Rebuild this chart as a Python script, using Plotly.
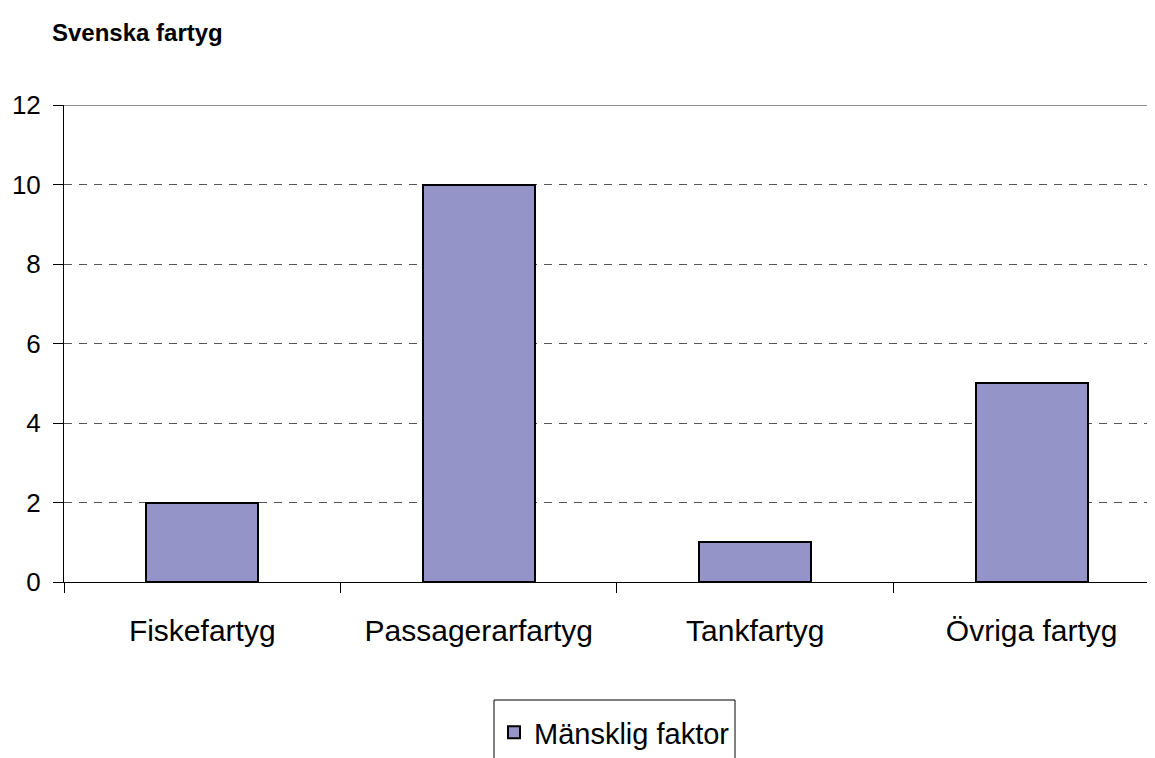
import plotly.graph_objects as go

# ── Data ─────────────────────────────────────────────────────────────────────
kategorier = ["Fiskefartyg", "Passagerarfartyg", "Tankfartyg", "Övriga fartyg"]
mansklig_faktor = [2, 10, 1, 5]
y_ticks = [0, 2, 4, 6, 8, 10, 12]

FONT = "Liberation Sans, Arial, sans-serif"

# page body adds an 8px margin, so the figure is 8px smaller and shifted
W, H = 1147, 750
plot_l, plot_t, plot_b = 56, 97, 574
plot_w, plot_h = W - plot_l, plot_b - plot_t


def px_x(v):
    return (v - plot_l) / plot_w


def px_y(v):
    return (plot_b - v) / plot_h


fig = go.Figure()
fig.add_trace(go.Bar(
    x=kategorier,
    y=mansklig_faktor,
    name="Mänsklig faktor",
    width=0.404,
    marker=dict(color="#9494C9", line=dict(color="black", width=2)),
))

# solid grey top border at 12
fig.add_shape(type="line", xref="paper", yref="y", x0=0, x1=1, y0=12, y1=12,
              line=dict(color="#8c8c8c", width=2))

# legend frame (runs off the bottom of the picture, as in the original)
fig.add_shape(type="rect", xref="paper", yref="paper",
              x0=px_x(486), x1=px_x(727), y0=px_y(692), y1=px_y(790),
              line=dict(color="black", width=1), fillcolor="rgba(0,0,0,0)")

fig.update_layout(
    width=W, height=H,
    margin=dict(l=plot_l, r=0, t=plot_t, b=H - plot_b),
    paper_bgcolor="white", plot_bgcolor="white",
    font=dict(family=FONT, color="black"),
    title=dict(text="<b>Svenska fartyg</b>", x=44 / W, xanchor="left",
               y=1 - 25 / H, yanchor="middle", font=dict(size=24)),
    bargap=0,
    showlegend=True,
    legend=dict(
        x=px_x(606.5), xanchor="center",
        y=px_y(699), yanchor="top",
        borderwidth=0, bgcolor="rgba(0,0,0,0)",
        font=dict(size=29),
        itemsizing="constant",
    ),
    xaxis=dict(
        range=[-0.5, 3.446],
        showline=True, linecolor="black", linewidth=1,
        ticks="outside", ticklen=10, tickcolor="black", tickson="boundaries",
        showgrid=False,
        tickfont=dict(size=30),
        ticklabelstandoff=22,
    ),
    yaxis=dict(
        range=[0, 12], tickvals=y_ticks,
        showline=True, linecolor="black", linewidth=1,
        ticks="outside", ticklen=10, tickcolor="black",
        showgrid=True, gridcolor="#555555", gridwidth=1, griddash="8px,7px",
        zeroline=False,
        tickfont=dict(size=26),
        ticklabelstandoff=7,
    ),
)

fig.write_html("out.html")
